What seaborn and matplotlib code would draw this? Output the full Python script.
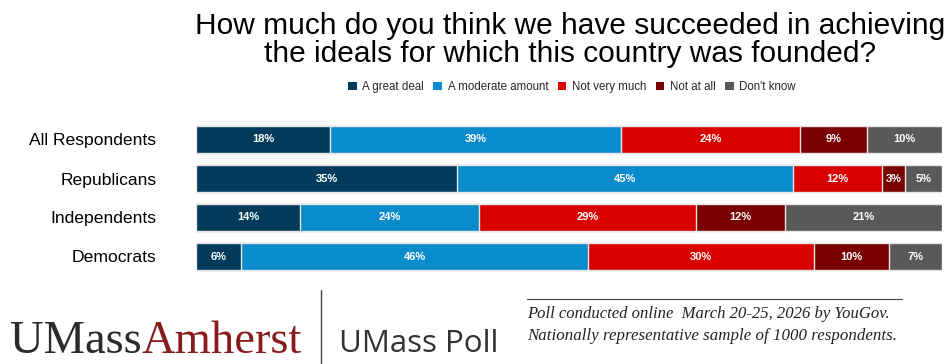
import numpy as np
import pandas as pd
import matplotlib
matplotlib.use("Agg")
import matplotlib.pyplot as plt
import seaborn as sns
from matplotlib.patches import Patch
from matplotlib.lines import Line2D

categories = ["All Respondents", "Republicans", "Independents", "Democrats"]
series_names = ["A great deal", "A moderate amount", "Not very much", "Not at all", "Don't know"]
great_deal = [18, 35, 14, 6]
moderate = [39, 45, 24, 46]
not_very = [24, 12, 29, 30]
not_at_all = [9, 3, 12, 10]
dont_know = [10, 5, 21, 7]
colors = ["#003B5C", "#0A8BCB", "#D90000", "#7A0000", "#595959"]

sns.set_theme(style="white")
plt.rcParams["font.family"] = ["Liberation Sans", "DejaVu Sans"]

series = [great_deal, moderate, not_very, not_at_all, dont_know]
vals = np.array(series, dtype=float)  # shape (5, 4)
totals = vals.sum(axis=0)
norm = vals / totals * 100
cum = np.cumsum(norm, axis=0)

W, H = 952, 364
fig = plt.figure(figsize=(W / 100, H / 100), dpi=100)
ax = fig.add_axes([196 / W, 1 - 276 / H, (942 - 196) / W, 156 / H])

for i in range(len(series) - 1, -1, -1):
    df = pd.DataFrame({"cat": categories, "val": cum[i]})
    sns.barplot(data=df, x="val", y="cat", orient="h", color=colors[i],
                width=0.7, edgecolor="#e6e6e6", linewidth=1.0, saturation=1,
                ax=ax)

for i in range(len(series)):
    for j in range(len(categories)):
        left = cum[i][j] - norm[i][j]
        ax.text(left + norm[i][j] / 2, j, f"{int(vals[i][j])}%", color="white",
                ha="center", va="center", fontsize=8, fontweight="bold")

ax.set_xlim(0, 100)
ax.set_ylim(3.5, -0.5)
ax.set_xlabel("")
ax.set_ylabel("")
ax.set_xticks([])
ax.tick_params(axis="y", length=0, pad=28.5, labelsize=12.6, labelcolor="black")
for s in ax.spines.values():
    s.set_visible(False)

fig.text(570 / W, 1 - 40 / H,
         "How much do you think we have succeeded in achieving\nthe ideals for which this country was founded?",
         ha="center", va="center", fontsize=21.5, linespacing=1.03, color="black")

handles = [Patch(facecolor=c, edgecolor="none") for c in colors]
fig.legend(handles, series_names, loc="center", bbox_to_anchor=(572 / W, 1 - 87 / H),
           ncol=5, frameon=False, fontsize=8.3, handlelength=0.75, handleheight=0.75,
           handletextpad=0.5, columnspacing=0.8)

# footer
fig.canvas.draw()
r = fig.canvas.get_renderer()
t1 = fig.text(10 / W, 1 - 353 / H, "UMass", fontsize=33.5, family="Liberation Serif",
              color="#2b2b2b", ha="left", va="baseline")
bb = t1.get_window_extent(renderer=r)
fig.text(bb.x1 / W, 1 - 353 / H, "Amherst", fontsize=33.5, family="Liberation Serif",
         color="#881C1C", ha="left", va="baseline")
fig.add_artist(Line2D([321 / W, 321 / W], [1 - 290 / H, 0], color="#444444", lw=1))
fig.text(339 / W, 1 - 352 / H, "UMass Poll", fontsize=22.5, family="Open Sans",
         color="#333333", ha="left", va="baseline")
fig.add_artist(Line2D([527 / W, 902 / W], [1 - 299 / H, 1 - 299 / H], color="#444444", lw=0.8))
fig.text(527 / W, 1 - 318 / H, "Poll conducted online  March 20-25, 2026 by YouGov.",
         fontsize=12, family="Liberation Serif", style="italic", color="#222222", ha="left", va="baseline")
fig.text(527 / W, 1 - 340 / H, "Nationally representative sample of 1000 respondents.",
         fontsize=12.2, family="Liberation Serif", style="italic", color="#222222", ha="left", va="baseline")

fig.savefig("out.png", dpi=100)
